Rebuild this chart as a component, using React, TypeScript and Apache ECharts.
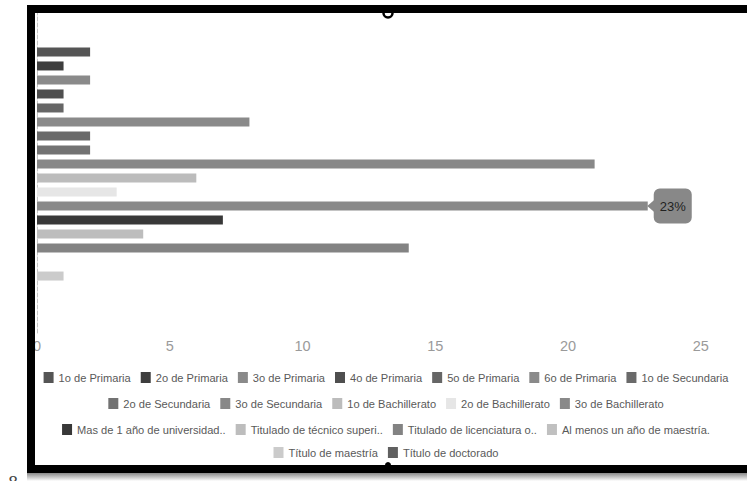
import React, { useEffect, useRef } from "react";
import * as echarts from "echarts";

// Education level shares (%), one bar per level
const levels = [
  "1o de Primaria",
  "2o de Primaria",
  "3o de Primaria",
  "4o de Primaria",
  "5o de Primaria",
  "6o de Primaria",
  "1o de Secundaria",
  "2o de Secundaria",
  "3o de Secundaria",
  "1o de Bachillerato",
  "2o de Bachillerato",
  "3o de Bachillerato",
  "Mas de 1 año de universidad..",
  "Titulado de técnico superi..",
  "Titulado de licenciatura o..",
  "Al menos un año de maestría.",
  "Título de maestría",
  "Título de doctorado",
];

const shares = [2, 1, 2, 1, 1, 8, 2, 2, 21, 6, 3, 23, 7, 4, 14, 0, 1, 0];

const shades = [
  "#555555", "#3e3e3e", "#8a8a8a", "#4f4f4f", "#666666", "#8a8a8a",
  "#6a6a6a", "#727272", "#888888", "#bcbcbc", "#e6e6e6", "#898989",
  "#383838", "#bdbdbd", "#838383", "#c0c0c0", "#cbcbcb", "#606060",
];

// Highlighted bar that carries the value callout
const calloutLevel = "3o de Bachillerato";

const xTicks = { min: 0, max: 30, step: 5 };

// Legend rows as laid out under the plot
const legendRows = [
  levels.slice(0, 7),
  levels.slice(7, 12),
  levels.slice(12, 16),
  levels.slice(16, 18),
];

const FONT = "'Liberation Sans', Arial, sans-serif";

export default function App() {
  const ref = useRef<HTMLDivElement>(null);

  useEffect(() => {
    if (!ref.current) return;
    document.body.style.margin = "0";
    document.body.style.overflow = "hidden";
    const chart = echarts.init(ref.current, undefined, { renderer: "svg" });

    const series = levels.map((name, i) => {
      const isCallout = name === calloutLevel;
      return {
        type: "bar",
        name,
        barWidth: 9,
        barGap: "55.6%",
        itemStyle: { color: shades[i] },
        data: [
          isCallout
            ? {
                value: shares[i],
                label: {
                  show: true,
                  position: "right",
                  distance: 6,
                  formatter: (p: any) => `${p.value}%`,
                  backgroundColor: "#888888",
                  borderRadius: 6,
                  padding: [11, 6, 11, 6],
                  color: "#222222",
                  fontSize: 13,
                  fontFamily: FONT,
                },
              }
            : shares[i],
        ],
        markPoint: isCallout
          ? {
              silent: true,
              symbol: "path://M6,0 L0,6 L6,12 Z",
              symbolSize: [7, 12],
              symbolOffset: [3, 0],
              itemStyle: { color: "#888888" },
              label: { show: false },
              data: [{ type: "max" }],
            }
          : undefined,
      };
    });

    const legends = legendRows.map((row, r) => ({
      data: row,
      left: "center",
      top: [372, 398, 424, 447][r],
      padding: 0,
      icon: "rect",
      itemWidth: 10,
      itemHeight: 11,
      itemGap: 10,
      textStyle: { color: "#595959", fontSize: 11.1, fontFamily: FONT },
    }));

    chart.setOption({
      animation: false,
      backgroundColor: "#ffffff",
      grid: {
        left: 37,
        top: 9,
        width: 796.6,
        height: 324,
        containLabel: false,
        outerBoundsMode: "none",
      },
      xAxis: {
        type: "value",
        min: xTicks.min,
        max: xTicks.max,
        interval: xTicks.step,
        axisLine: { show: false },
        axisTick: { show: false },
        splitLine: { show: false },
        axisLabel: {
          color: "#9a9a9a",
          fontSize: 14.5,
          margin: 5,
          fontFamily: FONT,
          showMaxLabel: false,
        },
      },
      yAxis: {
        type: "category",
        data: ["Nivel"],
        axisLine: { show: true, lineStyle: { color: "#c4c4c4", type: "dashed", width: 1 } },
        axisTick: { show: false },
        axisLabel: { show: false },
      },
      legend: legends,
      series,
      graphic: [
        // photo frame around the chart
        {
          type: "rect",
          z: 100,
          shape: { x: 27, y: 473, width: 760, height: 8 },
          style: {
            fill: new echarts.graphic.LinearGradient(0, 0, 0, 1, [
              { offset: 0, color: "#8a8a8a" },
              { offset: 1, color: "#ffffff" },
            ]),
          },
        },
        { type: "circle", z: 100, shape: { cx: 388, cy: 465, r: 3 }, style: { fill: "#000" } },
        { type: "rect", z: 101, shape: { x: 27, y: 5, width: 760, height: 8 }, style: { fill: "#000" } },
        { type: "rect", z: 101, shape: { x: 27, y: 465, width: 760, height: 8 }, style: { fill: "#000" } },
        { type: "rect", z: 101, shape: { x: 27, y: 5, width: 8, height: 468 }, style: { fill: "#000" } },
        {
          type: "arc",
          z: 101,
          shape: { cx: 388, cy: 13, r: 4.5, startAngle: 0, endAngle: Math.PI, clockwise: true },
          style: { stroke: "#000", lineWidth: 2.5, fill: "none" },
        },
        {
          type: "text",
          z: 101,
          x: 8,
          y: 474,
          style: { text: "8", font: "16px 'DejaVu Serif', serif", fill: "#444" },
        },
      ],
    });

    return () => chart.dispose();
  }, []);

  return (
    <div
      style={{
        position: "fixed",
        left: 0,
        top: 0,
        width: 747,
        height: 481,
        overflow: "hidden",
        background: "#fff",
      }}
    >
      <div ref={ref} style={{ width: 772, height: 481 }} />
    </div>
  );
}
